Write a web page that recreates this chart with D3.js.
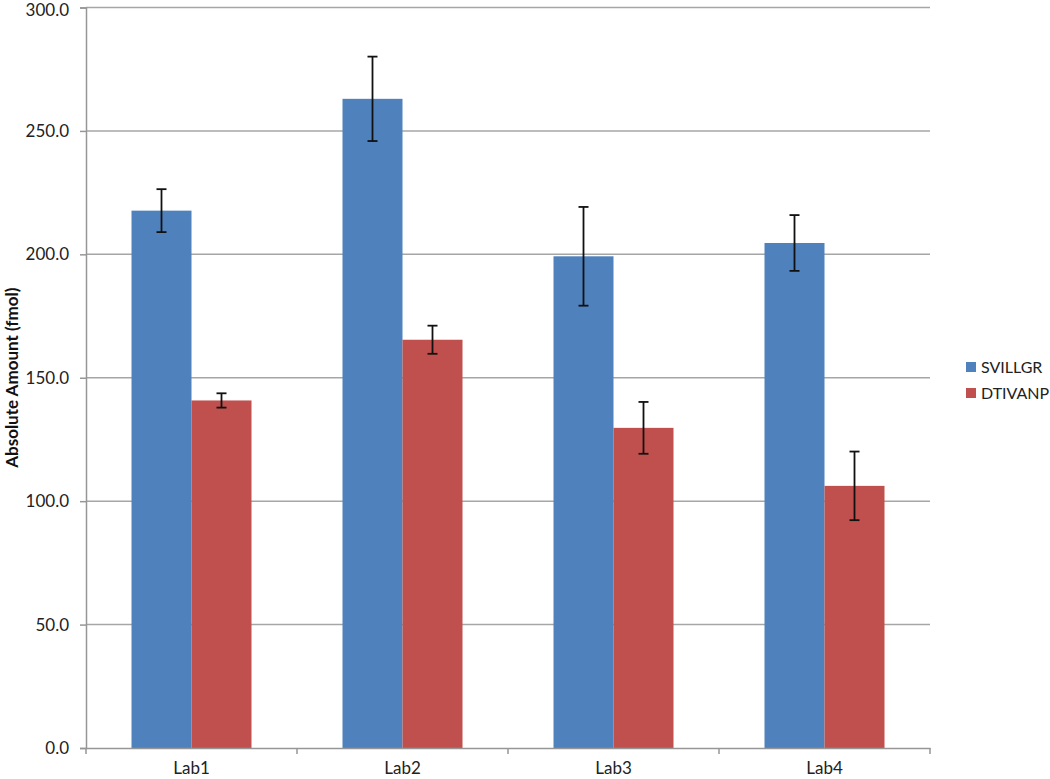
<!DOCTYPE html>
<html><head><meta charset="utf-8">
<script src="https://cdn.jsdelivr.net/npm/d3@7"></script>
<style>body{margin:0;background:#fff;}svg{display:block;}text{font-family:Lato,"Open Sans",sans-serif;}</style>
</head><body><div id="chart"></div>
<script>
const categories = ["Lab1","Lab2","Lab3","Lab4"];
const seriesNames = ["SVILLGR","DTIVANP"];
const svillgrValues = [217.7, 263.0, 199.2, 204.6];
const svillgrErrors = [8.7, 17.1, 20.0, 11.3];
const dtivanpValues = [140.8, 165.4, 129.7, 106.2];
const dtivanpErrors = [2.9, 5.7, 10.5, 13.9];
const yTicks = [0,50,100,150,200,250,300];
const colors = ["#4F81BD","#C0504D"];

const W = 1050, H = 779;
const m = {left: 86, right: 120, top: 7.5, bottom: 31};
const FONT = 'Lato,"Open Sans",sans-serif';
const svg = d3.select("#chart").append("svg").attr("width", W).attr("height", H);
const x = d3.scaleBand().domain(categories).range([m.left, W - m.right]).paddingInner(0).paddingOuter(0);
const y = d3.scaleLinear().domain([0,300]).range([H - m.bottom, m.top]);
const barW = 60;
const data = categories.map((c,i)=>({c, vals:[
  {s:0, v:svillgrValues[i], e:svillgrErrors[i]},
  {s:1, v:dtivanpValues[i], e:dtivanpErrors[i]}]}));

// gridlines
svg.append("g").selectAll("line").data(yTicks.filter(t=>t>0)).join("line")
  .attr("x1", m.left).attr("x2", W - m.right)
  .attr("y1", d=>y(d)).attr("y2", d=>y(d))
  .attr("stroke", "#a6a6a6").attr("stroke-width", 1.5);

// bars
const g = svg.append("g");
data.forEach(d=>{
  const cx = x(d.c) + x.bandwidth()/2;
  d.vals.forEach(s=>{
    const bx = cx - barW + s.s*barW;
    g.append("rect").attr("x", bx).attr("y", y(s.v)).attr("width", barW)
      .attr("height", y(0)-y(s.v)).attr("fill", colors[s.s]);
  });
});
// error bars
data.forEach(d=>{
  const cx = x(d.c) + x.bandwidth()/2;
  d.vals.forEach(s=>{
    const ex = cx - barW/2 + s.s*barW;
    const eg = g.append("g").attr("stroke", "#111").attr("stroke-width", 1.8);
    eg.append("line").attr("x1", ex).attr("x2", ex).attr("y1", y(s.v+s.e)).attr("y2", y(s.v-s.e));
    [s.v+s.e, s.v-s.e].forEach(t=>eg.append("line").attr("x1", ex-5).attr("x2", ex+5).attr("y1", y(t)).attr("y2", y(t)));
  });
});

// y axis
const yAxis = svg.append("g").attr("transform", `translate(${m.left},0)`)
  .call(d3.axisLeft(y).tickValues(yTicks).tickFormat(d3.format(".1f")).tickSizeOuter(0).tickSize(6));
yAxis.select(".domain").attr("stroke", "#969696").attr("stroke-width", 1.5);
yAxis.selectAll(".tick line").attr("stroke", "#969696").attr("stroke-width", 1.5);
yAxis.selectAll(".tick text").attr("font-size", 17).attr("fill", "#222").attr("x", -17)
  .attr("dy", d=> d===300 ? "0.48em" : "0.32em")
  .style("font-family", FONT);

// x axis
const xAxis = svg.append("g").attr("transform", `translate(0,${y(0)})`)
  .call(d3.axisBottom(x).tickSize(0).tickSizeOuter(0));
xAxis.select(".domain").attr("stroke", "#969696").attr("stroke-width", 1.5);
xAxis.selectAll(".tick text").attr("font-size", 17).attr("fill", "#222").attr("y", 14).attr("dy", "0.71em")
  .style("font-family", FONT);
const bounds = categories.map(c=>x(c)).concat([x(categories[categories.length-1]) + x.bandwidth()]);
xAxis.selectAll("line.sep").data(bounds).join("line").attr("class","sep")
  .attr("x1", d=>d).attr("x2", d=>d).attr("y1", 0).attr("y2", 6)
  .attr("stroke", "#969696").attr("stroke-width", 1.5);

// y title
svg.append("text").attr("transform", `translate(18,${(y(0)+y(300))/2}) rotate(-90)`)
  .attr("text-anchor", "middle").attr("font-size", 17).attr("font-weight", "bold").attr("fill", "#111")
  .text("Absolute Amount (fmol)");

// legend
const lg = svg.append("g");
seriesNames.forEach((n,i)=>{
  const ly = 367 + i*26;
  lg.append("rect").attr("x", 966).attr("y", ly-5).attr("width", 10).attr("height", 10).attr("fill", colors[i]);
  lg.append("text").attr("x", 981).attr("y", ly).attr("dy", "0.35em").attr("font-size", 16).attr("fill", "#222").text(n);
});
</script></body></html>
